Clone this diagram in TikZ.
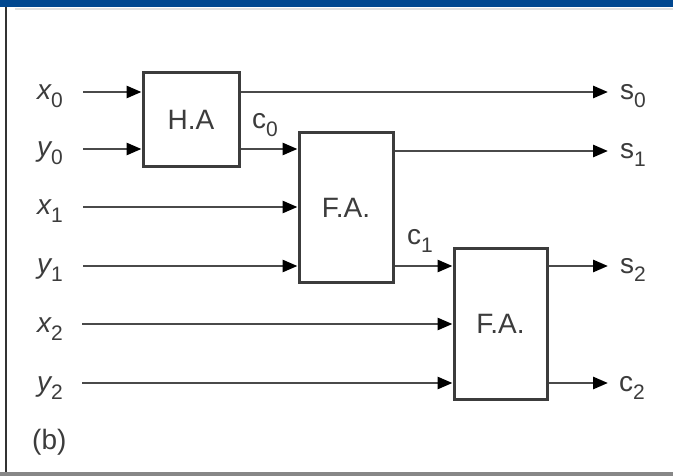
\documentclass[tikz,border=0pt]{standalone}
\usepackage{fontspec}
\setmainfont{Liberation Sans}
\usetikzlibrary{arrows.meta}
\definecolor{topblue}{HTML}{00478F}
\definecolor{ink}{HTML}{3C3C3C}
\definecolor{wire}{HTML}{4A4A4A}
\newcommand{\mysig}[2]{#1\raisebox{-8pt}{\fontsize{21}{21}\selectfont\upshape #2}}
\tikzset{
  blk/.style={draw=ink, line width=3pt, rectangle, inner sep=0pt, text=ink,
              font=\fontsize{28}{28}\selectfont},
  wireline/.style={draw=wire, line width=2.8pt,
                   -{Triangle[length=15pt,width=12pt,fill=black,color=black]}},
  siglab/.style={anchor=base west, inner sep=0pt, text=ink,
                 font=\fontsize{28}{28}\selectfont},
}
\begin{document}
\begin{tikzpicture}[x=1pt,y=-1pt]
\useasboundingbox (0,0) rectangle (673,476);
% frame
\fill[topblue] (0,0) rectangle (673,7.3);
\draw[color=black!12, line width=2pt] (15,9.2) -- (673,9.2);
\draw[color=black!80, line width=2.5pt] (6,7.3) -- (6,473);
\fill[black!47] (0,471.7) rectangle (673,476);
% blocks
\node[blk, minimum width=96pt, minimum height=94pt] (HA) at (191,120) {H.A};
\node[blk, minimum width=94pt, minimum height=150pt] (FA1) at (346,208) {F.A.};
\node[blk, minimum width=93pt, minimum height=150pt] (FA2) at (500.5,324) {F.A.};
% input labels
\node[siglab] (lx0) at (37,100) {\mysig{\itshape x}{0}};
\node[siglab] (ly0) at (37,157) {\mysig{\itshape y}{0}};
\node[siglab] (lx1) at (37,215) {\mysig{\itshape x}{1}};
\node[siglab] (ly1) at (37,274) {\mysig{\itshape y}{1}};
\node[siglab] (lx2) at (37,332) {\mysig{\itshape x}{2}};
\node[siglab] (ly2) at (37,391) {\mysig{\itshape y}{2}};
% output labels
\node[siglab] (ls0) at (620,100) {\mysig{s}{0}};
\node[siglab] (ls1) at (620,159) {\mysig{s}{1}};
\node[siglab] (ls2) at (620,274) {\mysig{s}{2}};
\node[siglab] (lc2) at (619,391) {\mysig{c}{2}};
% carry labels
\node[siglab] (lc0) at (252,129) {\mysig{c}{0}};
\node[siglab] (lc1) at (407,245) {\mysig{c}{1}};
\node[siglab] (lb) at (32,449) {(b)};
% wire ends
\coordinate (x0s) at (83,92);
\coordinate (y0s) at (83,149);
\coordinate (x1s) at (83,207);
\coordinate (y1s) at (83,266);
\coordinate (x2s) at (82,324);
\coordinate (y2s) at (82,383);
\coordinate (s0e) at (608,92);
\coordinate (s1e) at (608,151);
\coordinate (s2e) at (608,266);
\coordinate (c2e) at (608,383);
\coordinate (c0y) at (0,149);
\coordinate (c1y) at (0,266);
% wires
\draw[wireline] (x0s) -- (HA.west |- x0s);
\draw[wireline] (y0s) -- (HA.west |- y0s);
\draw[wireline] (x1s) -- (FA1.west |- x1s);
\draw[wireline] (y1s) -- (FA1.west |- y1s);
\draw[wireline] (x2s) -- (FA2.west |- x2s);
\draw[wireline] (y2s) -- (FA2.west |- y2s);
\draw[wireline] (HA.east |- c0y) -- (FA1.west |- c0y);
\draw[wireline] (FA1.east |- c1y) -- (FA2.west |- c1y);
\draw[wireline] (HA.east |- s0e) -- (s0e);
\draw[wireline] (FA1.east |- s1e) -- (s1e);
\draw[wireline] (FA2.east |- s2e) -- (s2e);
\draw[wireline] (FA2.east |- c2e) -- (c2e);
\end{tikzpicture}
\end{document}
